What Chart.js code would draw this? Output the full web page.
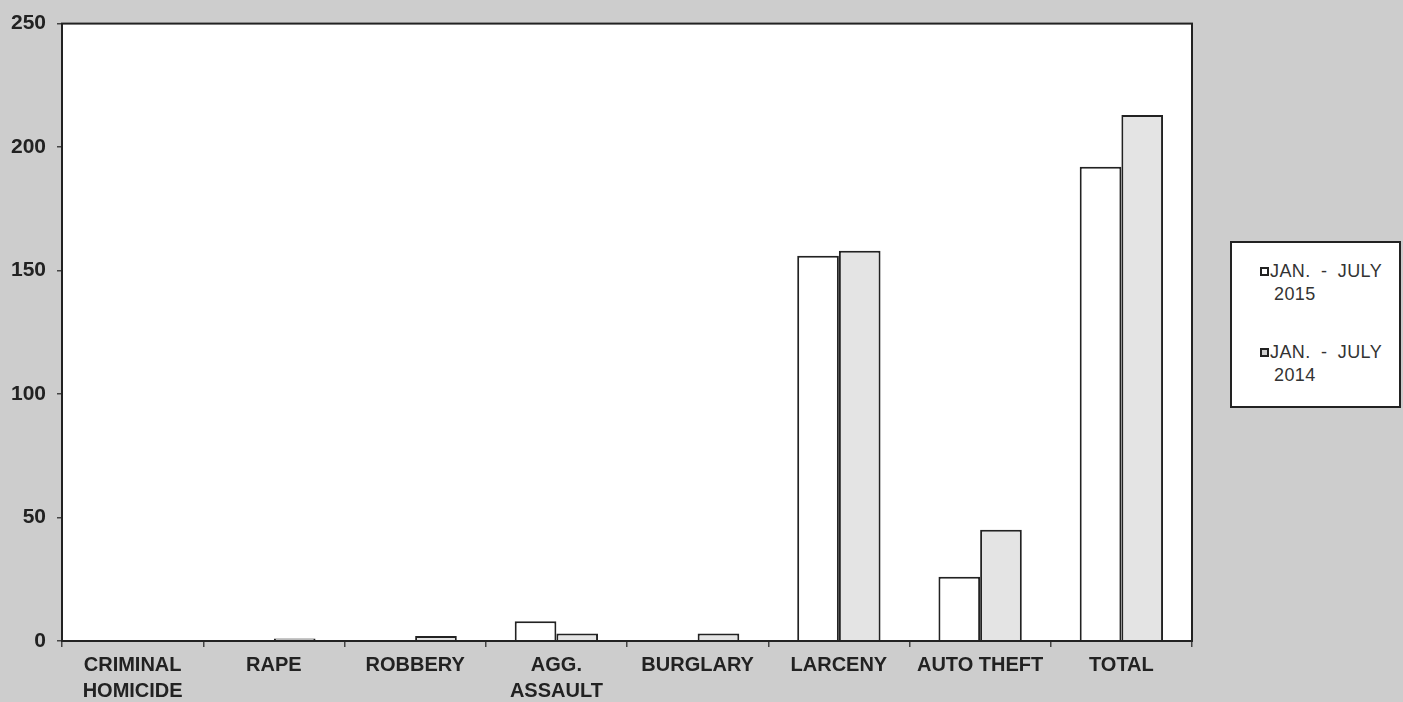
<!DOCTYPE html>
<html>
<head>
<meta charset="utf-8">
<script src="https://cdn.jsdelivr.net/npm/chart.js@4.4.1/dist/chart.umd.min.js"></script>
<style>
  html, body { margin: 0; padding: 0; }
  body { width: 1403px; height: 702px; background: #cdcdcd; position: relative; overflow: hidden; font-family: "Liberation Sans", Arial, sans-serif; }
  #wrap { position: absolute; left: 0; top: 0; width: 1403px; height: 702px; }
  #legend { position: absolute; left: 1230px; top: 241px; width: 167px; height: 163px; background: #fff; border: 2px solid #222; }
  .item { position: absolute; left: 28px; font-size: 18px; color: #333; line-height: 23px; word-spacing: 5px; letter-spacing: 0.4px; white-space: nowrap; }
  .mk { display: inline-block; width: 5px; height: 5px; border: 2px solid #222; margin-right: 1px; vertical-align: 1px; }
  .l2 { padding-left: 14px; }
</style>
</head>
<body>
<div id="wrap"><canvas id="c" width="1403" height="702"></canvas></div>
<div id="legend"></div>
<script>
const categories = [["CRIMINAL","HOMICIDE"], "RAPE", "ROBBERY", ["AGG.","ASSAULT"], "BURGLARY", "LARCENY", "AUTO THEFT", "TOTAL"];
const seriesNames = [["JAN. - JULY", "2015"], ["JAN. - JULY", "2014"]];
const values2015 = [0, 0, 0, 8, 0, 156, 26, 192];
const values2014 = [0, 1, 2, 3, 3, 158, 45, 213];
const yTicks = [0, 50, 100, 150, 200, 250];
const fills = ["#ffffff", "#e4e4e4"];
const markerFills = ["#ffffff", "#cfcfcf"];

const areaPlugin = {
  id: 'area',
  beforeDraw(chart) {
    const {ctx, chartArea: a} = chart;
    ctx.save();
    ctx.fillStyle = '#ffffff';
    ctx.fillRect(a.left, a.top, a.right - a.left, a.bottom - a.top);
    ctx.restore();
  },
  afterDraw(chart) {
    const {ctx, chartArea: a} = chart;
    ctx.save();
    ctx.strokeStyle = '#222';
    ctx.lineWidth = 2;
    ctx.strokeRect(a.left, a.top, a.right - a.left, a.bottom - a.top);
    ctx.restore();
  }
};

new Chart(document.getElementById('c'), {
  type: 'bar',
  data: {
    labels: categories,
    datasets: [
      { label: seriesNames[0].join(' '), data: values2015, backgroundColor: fills[0], borderColor: '#222', borderWidth: 2, borderSkipped: 'bottom' },
      { label: seriesNames[1].join(' '), data: values2014, backgroundColor: fills[1], borderColor: '#222', borderWidth: 2, borderSkipped: 'bottom' }
    ]
  },
  options: {
    responsive: false,
    animation: false,
    layout: { padding: { top: 20, right: 211, left: 0, bottom: 0 } },
    plugins: { legend: { display: false }, tooltip: { enabled: false } },
    datasets: { bar: { categoryPercentage: 0.59, barPercentage: 1.0 } },
    scales: {
      x: {
        afterFit(s) { s.height = 61; },
        grid: { offset: true, drawOnChartArea: false, tickLength: 6, color: '#444', lineWidth: 1.5 },
        border: { color: '#222', width: 2 },
        ticks: { color: '#222', font: { family: 'Liberation Sans', size: 20, weight: 'bold', lineHeight: 1.3 }, padding: 5, maxRotation: 0, autoSkip: false }
      },
      y: {
        min: 0, max: 250,
        afterFit(s) { s.width = 62; },
        afterBuildTicks(s) { s.ticks = yTicks.map(v => ({ value: v })); },
        grid: { drawOnChartArea: false, tickLength: 5, color: '#444', lineWidth: 1.5 },
        border: { color: '#222', width: 2 },
        ticks: { color: '#222', font: { family: 'Liberation Sans', size: 21, weight: 'bold' }, padding: 11 }
      }
    }
  },
  plugins: [areaPlugin]
});

const lg = document.getElementById('legend');
const tops = [17, 98];
seriesNames.forEach((n, i) => {
  const d = document.createElement('div');
  d.className = 'item';
  d.style.top = tops[i] + 'px';
  d.innerHTML = '<div><span class="mk" style="background:' + markerFills[i] + '"></span>' + n[0] + '</div><div class="l2">' + n[1] + '</div>';
  lg.appendChild(d);
});
</script>
</body>
</html>
